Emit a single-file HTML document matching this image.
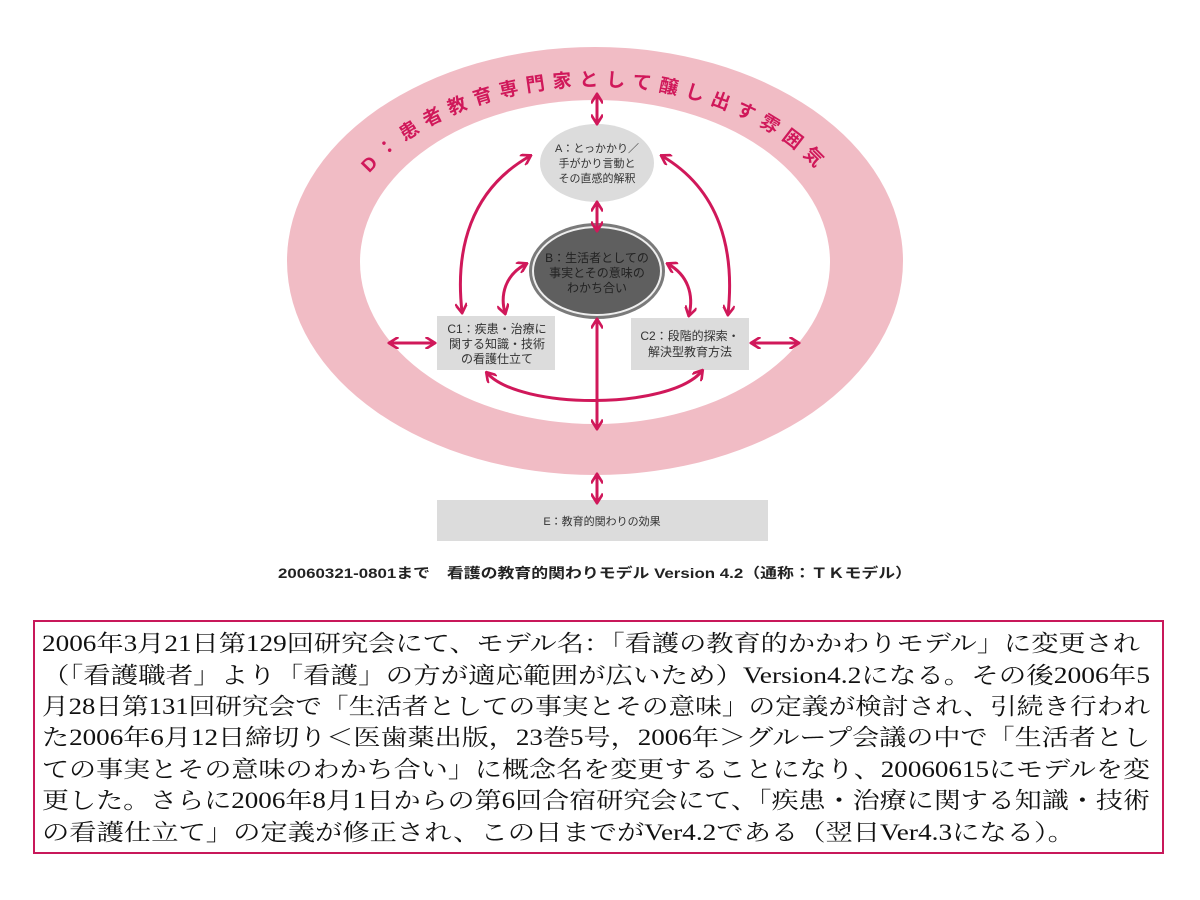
<!DOCTYPE html>
<html><head><meta charset="utf-8"><style>
body{margin:0;background:#fff;width:1200px;height:900px;overflow:hidden;position:relative;font-family:"Liberation Sans","Noto Sans CJK JP",sans-serif}
</style></head><body>
<svg width="1200" height="900" style="position:absolute;left:0;top:0">
<defs>
<marker id="a" viewBox="0 0 10 10" refX="8" refY="5" markerWidth="4" markerHeight="4" orient="auto-start-reverse"><path d="M1,0 L9,5 L1,10" fill="none" stroke="#d0185a" stroke-width="2.2"/></marker>
<path id="arc" d="M333,264 A262,178 0 0 1 857,264"/>
</defs>
<ellipse cx="595" cy="261" rx="308" ry="214" fill="#f1bcc5"/>
<ellipse cx="595" cy="262" rx="235" ry="162" fill="#fff"/>
<text font-size="19" font-weight="bold" fill="#d0185a" letter-spacing="7.5" text-anchor="middle"><textPath href="#arc" startOffset="50%">D：患者教育専門家として醸し出す雰囲気</textPath></text>
<ellipse cx="597" cy="163" rx="57" ry="39" fill="#dcdcdc"/>
<text font-size="11" fill="#333" text-anchor="middle"><tspan x="597" y="152">A：とっかかり／</tspan><tspan x="597" y="167">手がかり言動と</tspan><tspan x="597" y="182">その直感的解釈</tspan></text>
<ellipse cx="597" cy="271" rx="68" ry="48" fill="#7a7a7a"/>
<ellipse cx="597" cy="271" rx="64" ry="44" fill="#5f5f5f" stroke="#eee" stroke-width="2"/>
<text font-size="12" fill="#222" text-anchor="middle"><tspan x="597" y="262">B：生活者としての</tspan><tspan x="597" y="277">事実とその意味の</tspan><tspan x="597" y="292">わかち合い</tspan></text>
<rect x="437" y="316" width="118" height="54" fill="#dcdcdc"/>
<text font-size="12" fill="#333" text-anchor="middle"><tspan x="497" y="333">C1：疾患・治療に</tspan><tspan x="497" y="348">関する知識・技術</tspan><tspan x="497" y="363">の看護仕立て</tspan></text>
<rect x="631" y="318" width="118" height="52" fill="#dcdcdc"/>
<text font-size="12" fill="#333" text-anchor="middle"><tspan x="690" y="340">C2：段階的探索・</tspan><tspan x="690" y="356">解決型教育方法</tspan></text>
<rect x="437" y="500" width="331" height="41" fill="#dcdcdc"/>
<text x="602" y="525" font-size="11" fill="#333" text-anchor="middle">E：教育的関わりの効果</text>
<g stroke="#d0185a" stroke-width="3" fill="none" marker-start="url(#a)" marker-end="url(#a)">
<line x1="597" y1="95" x2="597" y2="123"/>
<line x1="597" y1="203" x2="597" y2="230"/>
<line x1="597" y1="320" x2="597" y2="428"/>
<line x1="597" y1="475" x2="597" y2="502"/>
<line x1="390" y1="343" x2="434" y2="343"/>
<line x1="752" y1="343" x2="798" y2="343"/>
<path d="M530,156 C470,190 455,250 462,312"/>
<path d="M662,156 C720,190 735,250 728,314"/>
<path d="M526,264 C505,275 500,295 505,313"/>
<path d="M668,264 C688,275 694,295 689,315"/>
<path d="M487,373 C520,410 670,410 702,371"/>
</g>
<text x="595" y="578" font-size="14" font-weight="bold" fill="#222" text-anchor="middle" textLength="634" lengthAdjust="spacingAndGlyphs">20060321-0801まで　看護の教育的関わりモデル Version 4.2（通称：ＴＫモデル）</text>
<rect x="34" y="621" width="1129" height="232" fill="none" stroke="#c8185a" stroke-width="2"/>
<g font-family="Liberation Serif, Noto Serif CJK SC, serif" font-size="23" fill="#111">
<text x="42" y="651" textLength="1098" lengthAdjust="spacingAndGlyphs">2006年3月21日第129回研究会にて、モデル名：「看護の教育的かかわりモデル」に変更され</text>
<text x="42" y="683" textLength="1108" lengthAdjust="spacingAndGlyphs">（「看護職者」より「看護」の方が適応範囲が広いため）Version4.2になる。その後2006年5</text>
<text x="42" y="714" textLength="1108" lengthAdjust="spacingAndGlyphs">月28日第131回研究会で「生活者としての事実とその意味」の定義が検討され、引続き行われ</text>
<text x="42" y="745" textLength="1108" lengthAdjust="spacingAndGlyphs">た2006年6月12日締切り＜医歯薬出版，23巻5号，2006年＞グループ会議の中で「生活者とし</text>
<text x="42" y="777" textLength="1108" lengthAdjust="spacingAndGlyphs">ての事実とその意味のわかち合い」に概念名を変更することになり、20060615にモデルを変</text>
<text x="42" y="808" textLength="1108" lengthAdjust="spacingAndGlyphs">更した。さらに2006年8月1日からの第6回合宿研究会にて、「疾患・治療に関する知識・技術</text>
<text x="42" y="840" textLength="1033" lengthAdjust="spacingAndGlyphs">の看護仕立て」の定義が修正され、この日までがVer4.2である（翌日Ver4.3になる）。</text>
</g>
</svg>
</body></html>
